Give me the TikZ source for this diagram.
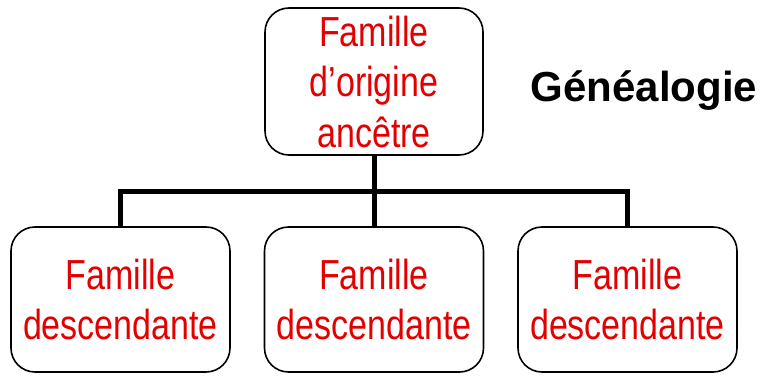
\documentclass[tikz,border=0pt]{standalone}
\usepackage{fontspec}
\setmainfont{Liberation Sans}
\newfontfamily\etroite{Liberation Sans}[FakeStretch=0.81]
\usepackage{tikz}
\definecolor{rougefam}{RGB}{226,0,0}

\begin{document}
\begin{tikzpicture}[x=1pt,y=-1pt,
		famille/.style={draw, line width=1.6pt, rounded corners=24pt, inner sep=0pt,
			align=center, text=rougefam, font={\etroite\fontsize{42}{50.5}\selectfont}},
		lien/.style={line width=5pt, line join=miter}]
	
	\useasboundingbox (0,0) rectangle (770,377);
	
	\coordinate (bras) at (374,191);
	
	% lignes d'abord, les boites par-dessus
	\path (374,81.5) node[famille, minimum width=218pt, minimum height=147pt] (origine) {Famille\\d’origine\\ancêtre};
	\path (120.5,299.5) node[famille, minimum width=219pt, minimum height=145pt] (gauche) {Famille\\descendante};
	\path (374,299.5) node[famille, minimum width=219pt, minimum height=145pt] (milieu) {Famille\\descendante};
	\path (627.5,299.5) node[famille, minimum width=219pt, minimum height=145pt] (droite) {Famille\\descendante};
	
	\draw[lien] (origine.south) -- (milieu.north);
	\draw[lien] (gauche.north) -- (gauche.north |- bras) -- (droite.north |- bras) -- (droite.north);
	
	\node[anchor=base, font={\bfseries\fontsize{42}{50}\selectfont}] (titre) at (644,102) {Généalogie};
\end{tikzpicture}
\end{document}
